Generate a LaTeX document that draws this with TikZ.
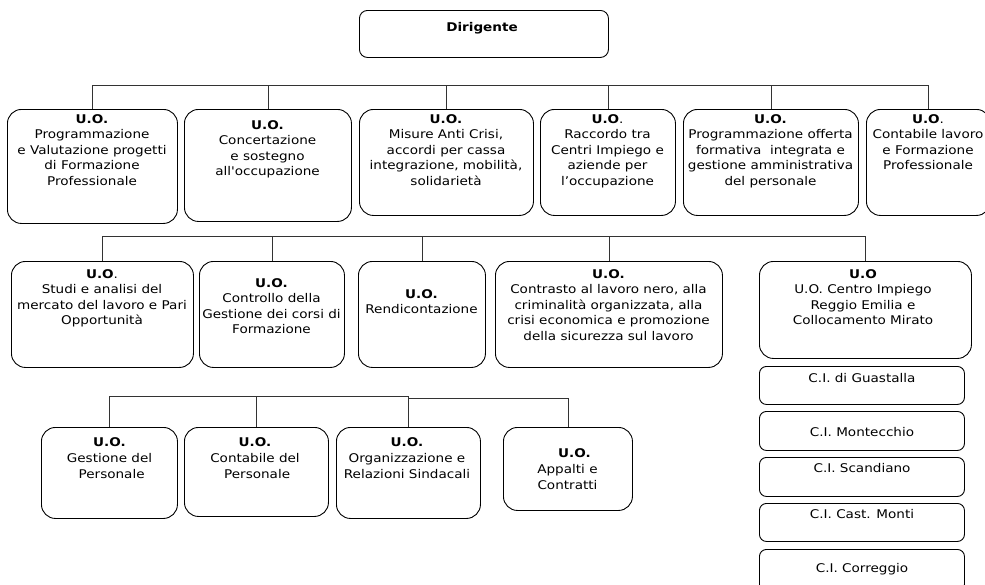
\documentclass[tikz,border=0pt]{standalone}
\usepackage{fontspec}
\setmainfont[FakeStretch=1.13]{DejaVu Sans}
\newfontfamily\qfont[FakeStretch=1.13,Ligatures=TeXOff]{DejaVu Sans}
\begin{document}
\begin{tikzpicture}[x=1pt,y=-1pt,
  box/.style={draw=black, line width=0.9pt, rounded corners=14pt, inner sep=0pt, anchor=north west},
  cibox/.style={draw=black, line width=0.9pt, rounded corners=7pt, inner sep=0pt, anchor=north west, minimum width=205pt},
  lbl/.style={anchor=north, align=center, inner sep=0pt, font=\fontsize{12}{15.5}\selectfont},
  nlbl/.style={anchor=north, align=center, inner sep=0pt, font=\fontsize{12}{16}\selectfont},
  cil/.style={anchor=base, inner sep=0pt, font=\fontsize{12}{15.5}\selectfont},
  conn/.style={draw=black!80, line width=0.8pt}]
\useasboundingbox (0,0) rectangle (985,584);

% Dirigente
\node[box, rounded corners=8pt, minimum width=249pt, minimum height=47pt] (d) at (359,10) {};
\node[cil] (dt) at (482,31.5) {\textbf{Dirigente}};

% Row 1
\node[box, minimum width=170pt, minimum height=114pt] (a1) at (7,109) {};
\node[box, minimum width=167pt, minimum height=112pt] (a2) at (184,109) {};
\node[box, minimum width=174pt, minimum height=106pt] (a3) at (359,109) {};
\node[box, minimum width=135pt, minimum height=106pt] (a4) at (540,109) {};
\node[box, minimum width=175pt, minimum height=106pt] (a5) at (683,109) {};
\node[box, minimum width=124pt, minimum height=106pt] (a6) at (866,109) {};

\node[lbl] (a1t) at (92,114) {\textbf{U.O.}\\Programmazione\\e Valutazione progetti\\di Formazione\\Professionale};
\node[lbl] (a2t) at (267.5,120) {\textbf{U.O.}\\Concertazione\\e sostegno\\all{\qfont'}occupazione};
\node[lbl] (a3t) at (446,114) {\textbf{U.O.}\\Misure Anti Crisi,\\accordi per cassa\\integrazione, mobilità,\\solidarietà};
\node[lbl] (a4t) at (607.5,114) {\textbf{U.O}.\\Raccordo tra\\Centri Impiego e\\aziende per\\l’occupazione};
\node[lbl] (a5t) at (770.5,114) {\textbf{U.O.}\\Programmazione offerta\\formativa\ \ integrata e\\gestione amministrativa\\del personale};
\node[lbl] (a6t) at (928,114) {\textbf{U.O}.\\Contabile lavoro\\e Formazione\\Professionale};

\coordinate (bus1) at (0,85);
\draw[conn] (a1.north) -- (a1.north |- bus1) -- (a6.north |- bus1) -- (a6.north);
\foreach \n in {a2,a3,a4,a5} \draw[conn] (\n.north) -- (\n.north |- bus1);

% Row 2
\node[box, minimum width=182pt, minimum height=106pt] (b1) at (11,261) {};
\node[box, minimum width=145pt, minimum height=106pt] (b2) at (199,261) {};
\node[box, minimum width=127pt, minimum height=106pt] (b3) at (358,261) {};
\node[box, minimum width=227pt, minimum height=106pt] (b4) at (495,261) {};
\node[box, minimum width=212pt, minimum height=97pt] (b5) at (759,261) {};

\node[lbl] (b1t) at (102,269) {\textbf{U.O}.\\Studi e analisi del\\mercato del lavoro e Pari\\Opportunità};
\node[lbl] (b2t) at (271.5,278) {\textbf{U.O.}\\Controllo della\\Gestione dei corsi di\\Formazione};
\node[lbl] (b3t) at (421.5,289) {\textbf{U.O.}\\Rendicontazione};
\node[lbl] (b4t) at (608.5,269) {\textbf{U.O.}\\Contrasto al lavoro nero, alla\\criminalità organizzata, alla\\crisi economica e promozione\\della sicurezza sul lavoro};
\node[lbl] (b5t) at (863,269) {\textbf{U.O}\\U.O. Centro Impiego\\Reggio Emilia e\\Collocamento Mirato};

\coordinate (bus2) at (0,236);
\draw[conn] (b1.north) |- (b5.north |- bus2) -- (b5.north);
\foreach \n in {b2,b3,b4} \draw[conn] (\n.north) -- (\n.north |- bus2);

% Centri Impiego
\node[cibox, minimum height=38pt] (ci1) at (759,366) {};
\node[cibox, minimum height=39pt] (ci2) at (759,411) {};
\node[cibox, minimum height=39pt] (ci3) at (759,457) {};
\node[cibox, minimum height=38pt] (ci4) at (759,503) {};
\node[cibox, minimum height=42pt] (ci5) at (759,549) {};
\node[cil] (ci1t) at (862,382.5) {C.I. di Guastalla};
\node[cil] (ci2t) at (862,436.5) {C.I. Montecchio};
\node[cil] (ci3t) at (862,472.5) {C.I. Scandiano};
\node[cil] (ci4t) at (862,518.5) {C.I. Cast. Monti};
\node[cil] (ci5t) at (862,572.5) {C.I. Correggio};

% Row 3
\node[box, minimum width=136pt, minimum height=91pt] (e1) at (41,427) {};
\node[box, minimum width=144pt, minimum height=89pt] (e2) at (184,427) {};
\node[box, minimum width=144pt, minimum height=91pt] (e3) at (336,427) {};
\node[box, minimum width=129pt, minimum height=83pt] (e4) at (503,427) {};

\node[nlbl] (e1t) at (109.5,437) {\textbf{U.O.}\\Gestione del\\\ Personale};
\node[nlbl] (e2t) at (255,437) {\textbf{U.O.}\\Contabile del\\\ Personale};
\node[nlbl] (e3t) at (407,437) {\textbf{U.O.}\\Organizzazione e\\Relazioni Sindacali};
\node[nlbl] (e4t) at (567.5,448) {\hspace*{14pt}\textbf{U.O.}\\Appalti e\\Contratti};

\coordinate (bus3) at (0,396);
\coordinate (bus3b) at (0,398);
\draw[conn] (e1.north) |- (e3.north |- bus3) -- (e3.north);
\draw[conn] (e2.north) -- (e2.north |- bus3);
\draw[conn] (e3.north |- bus3b) -| (e4.north);
\end{tikzpicture}
\end{document}
